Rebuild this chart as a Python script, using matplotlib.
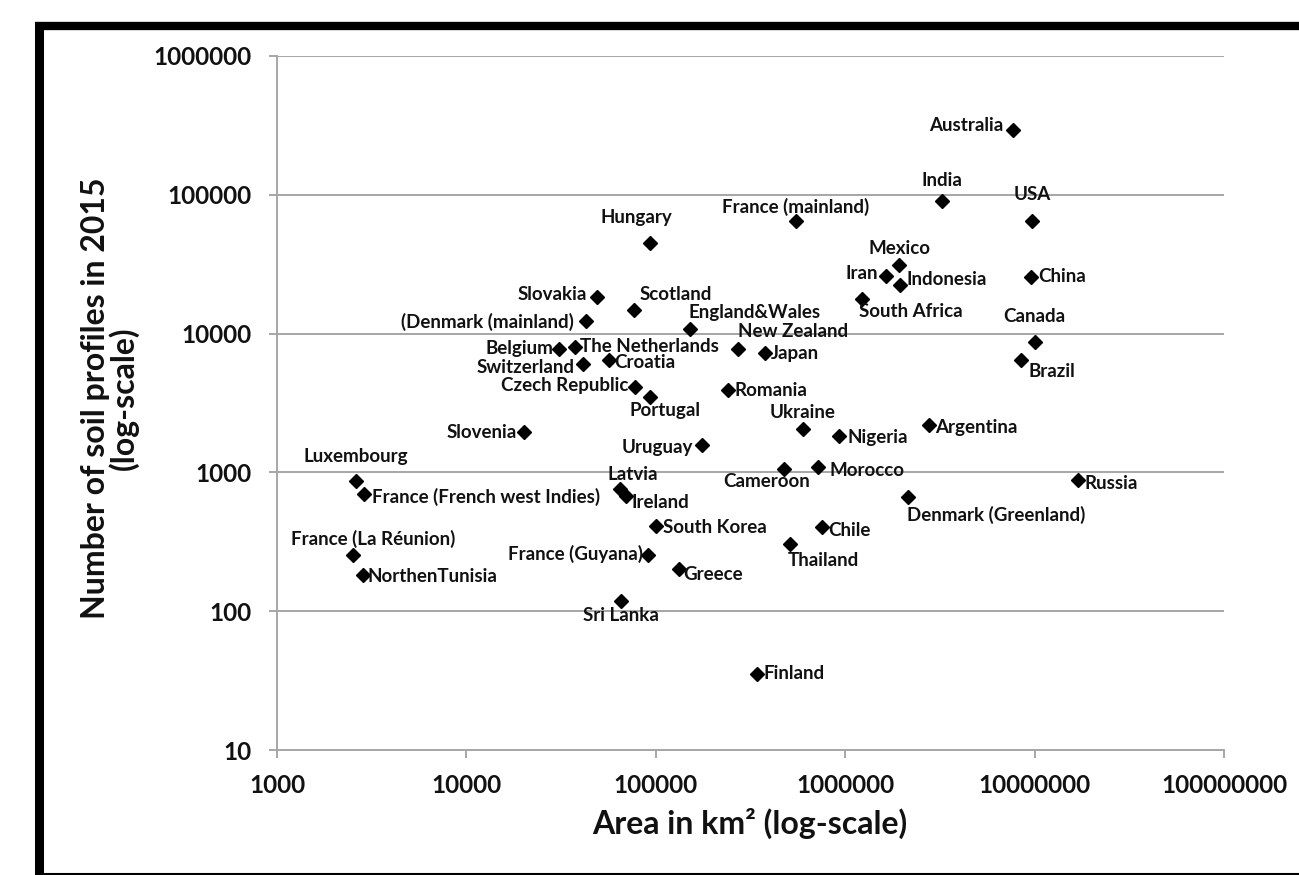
import matplotlib
matplotlib.use("Agg")
import matplotlib.pyplot as plt
from matplotlib.lines import Line2D

plt.rcParams['font.family'] = ['Lato', 'DejaVu Sans']

countries = ["Australia", "India", "USA", "France (mainland)", "Hungary", "Mexico", "Iran",
             "Indonesia", "China", "South Africa", "Slovakia", "Scotland", "(Denmark (mainland)",
             "England&Wales", "Canada", "Belgium", "The Netherlands", "New Zealand", "Japan",
             "Switzerland", "Croatia", "Brazil", "Czech Republic", "Portugal", "Romania",
             "Ukraine", "Argentina", "Nigeria", "Slovenia", "Uruguay", "Cameroon", "Morocco",
             "Russia", "Luxembourg", "France (French west Indies)", "Latvia", "Ireland",
             "Denmark (Greenland)", "South Korea", "Chile", "France (La Réunion)",
             "France (Guyana)", "Thailand", "Greece", "NorthenTunisia", "Sri Lanka", "Finland"]

area_km2 = [7.7e6, 3.25e6, 9.7e6, 5.5e5, 9.3e4, 1.93e6, 1.64e6,
            1.95e6, 9.6e6, 1.22e6, 4.9e4, 7.7e4, 4.3e4,
            1.51e5, 1.0e7, 3.08e4, 3.73e4, 2.71e5, 3.76e5,
            4.12e4, 5.65e4, 8.5e6, 7.8e4, 9.3e4, 2.4e5,
            5.97e5, 2.77e6, 9.25e5, 2.01e4, 1.75e5, 4.74e5, 7.16e5,
            1.69e7, 2.61e3, 2.88e3, 6.46e4, 7.0e4,
            2.15e6, 1.0e5, 7.5e5, 2.52e3,
            9.1e4, 5.1e5, 1.33e5, 2.86e3, 6.53e4, 3.41e5]

n_profiles = [2.94e5, 9.06e4, 6.5e4, 6.5e4, 4.5e4, 3.13e4, 2.6e4,
              2.25e4, 2.57e4, 1.78e4, 1.84e4, 1.48e4, 1.24e4,
              1.08e4, 8.75e3, 7.8e3, 8.06e3, 7.7e3, 7.2e3,
              6.0e3, 6.5e3, 6.5e3, 4.15e3, 3.5e3, 3.9e3,
              2.07e3, 2.2e3, 1.84e3, 1.96e3, 1.57e3, 1.05e3, 1.1e3,
              875, 867, 695, 754, 676,
              661, 408, 402, 254,
              254, 306, 202, 181, 118, 35.3]

x_ticks = [1000, 10000, 100000, 1000000, 10000000, 100000000]
y_ticks = [10, 100, 1000, 10000, 100000, 1000000]

# label placement: (dx, dy) offset in pixels, horizontal alignment
label_pos = {
    "Australia": (-10, 4, "right"), "India": (0, 20, "center"), "USA": (0, 26, "center"),
    "France (mainland)": (0, 14, "center"), "Hungary": (-13, 25, "center"),
    "Mexico": (0, 16, "center"), "Iran": (-8, 3, "right"), "Indonesia": (6, 5, "left"),
    "China": (7, 0, "left"), "South Africa": (-3, -13, "left"), "Slovakia": (-10, 2, "right"),
    "Scotland": (5, 15, "left"), "(Denmark (mainland)": (-13, -1, "right"),
    "England&Wales": (-1, 16, "left"), "Canada": (0, 25, "center"), "Belgium": (-6, 0, "right"),
    "The Netherlands": (5, 0, "left"), "New Zealand": (0, 18, "left"), "Japan": (6, 0, "left"),
    "Switzerland": (-8, -3, "right"), "Croatia": (5, -3, "left"), "Brazil": (7, -12, "left"),
    "Czech Republic": (-7, 1, "right"), "Portugal": (15, -14, "center"),
    "Romania": (7, 0, "left"), "Ukraine": (0, 16, "center"), "Argentina": (6, -3, "left"),
    "Nigeria": (9, -2, "left"), "Slovenia": (-7, -1, "right"), "Uruguay": (-9, -2, "right"),
    "Cameroon": (-17, -12, "center"), "Morocco": (12, -4, "left"), "Russia": (7, -3, "left"),
    "Luxembourg": (0, 25, "center"), "France (French west Indies)": (8, -3, "left"),
    "Latvia": (13, 15, "center"), "Ireland": (5, -6, "left"),
    "Denmark (Greenland)": (-1, -18, "left"), "South Korea": (7, -1, "left"),
    "Chile": (7, -3, "left"), "France (La Réunion)": (20, 16, "center"),
    "France (Guyana)": (-5, 1, "right"), "Thailand": (-2, -17, "left"),
    "Greece": (4, -6, "left"), "NorthenTunisia": (4, -1, "left"),
    "Sri Lanka": (0, -14, "center"), "Finland": (7, 0, "left"),
}

W, H = 1299, 875
fig = plt.figure(figsize=(W / 100, H / 100), dpi=100)
ax = fig.add_axes([277 / W, 1 - 750 / H, (1224 - 277) / W, (750 - 56) / H])

ax.set_xscale('log')
ax.set_yscale('log')
ax.set_xlim(x_ticks[0], x_ticks[-1])
ax.set_ylim(y_ticks[0], y_ticks[-1])

grid_c = '#a6a6a6'
for yv in y_ticks[1:]:
    ax.axhline(yv, color=grid_c, lw=1.4, zorder=1)

for s in ['top', 'right']:
    ax.spines[s].set_visible(False)
for s in ['left', 'bottom']:
    ax.spines[s].set_color(grid_c)
    ax.spines[s].set_linewidth(1.4)

ax.set_xticks(x_ticks)
ax.set_yticks(y_ticks)
ax.set_xticklabels([str(v) for v in x_ticks])
ax.set_yticklabels([str(v) for v in y_ticks])
ax.minorticks_off()
ax.tick_params(axis='both', which='major', length=6, width=1.4, color=grid_c,
               labelsize=17.5, direction='out')
ax.tick_params(axis='x', pad=11)
ax.tick_params(axis='y', pad=12)
for lab in ax.get_xticklabels() + ax.get_yticklabels():
    lab.set_fontweight('bold')
    lab.set_color('#111111')

ax.plot(area_km2, n_profiles, linestyle='none', marker='D', markersize=6.8,
        color='black', zorder=3, clip_on=False)

for name, xv, yv in zip(countries, area_km2, n_profiles):
    dx, dy, ha = label_pos[name]
    ax.annotate(name, (xv, yv), xytext=(dx, dy), textcoords='offset pixels',
                ha=ha, va='center', fontsize=13.5, fontweight='bold', color='#111111',
                zorder=4)

fig.text(750 / W, 1 - 823 / H, "Area in km² (log-scale)", ha='center', va='center',
         fontsize=23, fontweight='bold', color='#111111')
fig.text(110 / W, 1 - 398 / H, "Number of soil profiles in 2015\n(log-scale)",
         ha='center', va='center', rotation=90, multialignment='center',
         fontsize=23, fontweight='bold', color='#111111', linespacing=0.95)

# black frame
fig.add_artist(Line2D([38.5 / W, 38.5 / W], [0, 1 - 22 / H], color='black', lw=6.5,
                      transform=fig.transFigure, solid_capstyle='butt'))
fig.add_artist(Line2D([35 / W, 1.0], [1 - 26 / H, 1 - 26 / H], color='black', lw=6.0,
                      transform=fig.transFigure, solid_capstyle='butt'))
fig.add_artist(Line2D([35 / W, 1.0], [1 - 874 / H, 1 - 874 / H], color='black', lw=1.5,
                      transform=fig.transFigure, solid_capstyle='butt'))

fig.savefig('out.png', dpi=100, facecolor='white')
